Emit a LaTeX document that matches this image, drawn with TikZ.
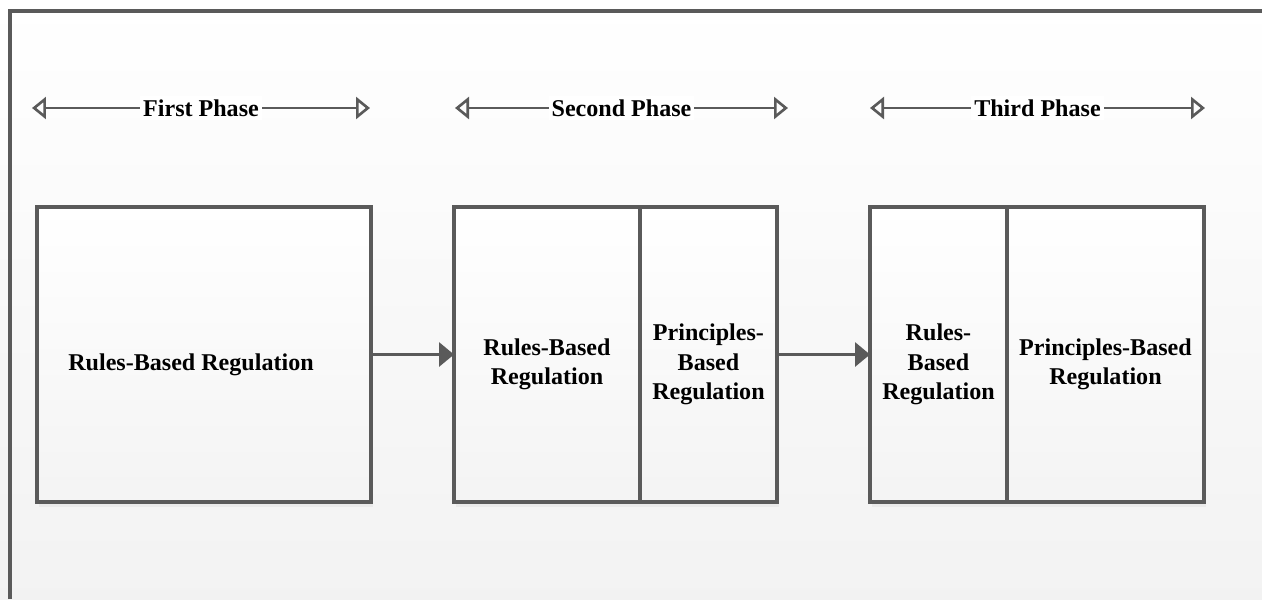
\documentclass[tikz,border=0pt]{standalone}
\usepackage{fontspec}
\setmainfont{Liberation Serif}
\usetikzlibrary{arrows.meta,positioning,shadows}
\definecolor{linegray}{HTML}{5A5A5A}
\tikzset{every picture/.style={x=0.02cm,y=-0.02cm},
  stage/.style={draw=linegray,line width=2pt,top color=white,bottom color=gray!9,
    minimum height=5.9cm,inner sep=0pt,outer sep=0pt,
    drop shadow={shadow xshift=0.04cm,shadow yshift=-0.1cm,opacity=0.08}},
  txt/.style={font=\bfseries\fontsize{13.7}{16.8}\selectfont,align=center,text=black},
  flow/.style={->,>={Triangle[length=0.3cm,width=0.48cm]},draw=linegray,line width=1.8pt},
  phase/.style={<->,>={Triangle[open,length=0.28cm,width=0.44cm]},draw=linegray,line width=1.5pt},
  phasetxt/.style={txt,fill=white,inner xsep=0.06cm,inner ysep=2pt}}

\begin{document}
\begin{tikzpicture}
      \useasboundingbox[top color=white,bottom color=gray!10] (0,0) rectangle (1262,599);
      \draw[draw=linegray,line width=2.2pt] (10,599) -- (10,11) -- (1262,11);
      \coordinate (p1l) at (32,108);
      \coordinate (p1r) at (370,108);
      \coordinate (p2l) at (455,108);
      \coordinate (p2r) at (788,108);
      \coordinate (p3l) at (870,108);
      \coordinate (p3r) at (1205,108);
      \draw[phase] (p1l) -- node[phasetxt] (h1) {First Phase} (p1r);
      \draw[phase] (p2l) -- node[phasetxt] (h2) {Second Phase} (p2r);
      \draw[phase] (p3l) -- node[phasetxt] (h3) {Third Phase} (p3r);
      \node[stage,minimum width=6.68cm] (b1) at (204,354.5) {};
      \node[stage,minimum width=3.72cm] (b2l) at (547,354.5) {};
      \node[stage,minimum width=2.74cm,right=0pt of b2l] (b2r) {};
      \node[stage,minimum width=2.74cm] (b3l) at (938.5,354.5) {};
      \node[stage,minimum width=3.94cm,right=0pt of b3l] (b3r) {};
      \node[txt] (t1) at ([shift={(-0.26cm,-0.2cm)}]b1.center) {Rules-Based Regulation};
      \node[txt] (t2l) at ([yshift=-0.2cm]b2l.center) {Rules-Based\\Regulation};
      \node[txt] (t2r) at ([yshift=-0.2cm]b2r.center) {Principles-\\Based\\Regulation};
      \node[txt] (t3l) at ([yshift=-0.2cm]b3l.center) {Rules-\\Based\\Regulation};
      \node[txt] (t3r) at ([yshift=-0.2cm]b3r.center) {Principles-Based\\Regulation};
      \draw[flow] (b1) -- (b2l);
      \draw[flow] (b2r) -- (b3l);
    \end{tikzpicture}
\end{document}
